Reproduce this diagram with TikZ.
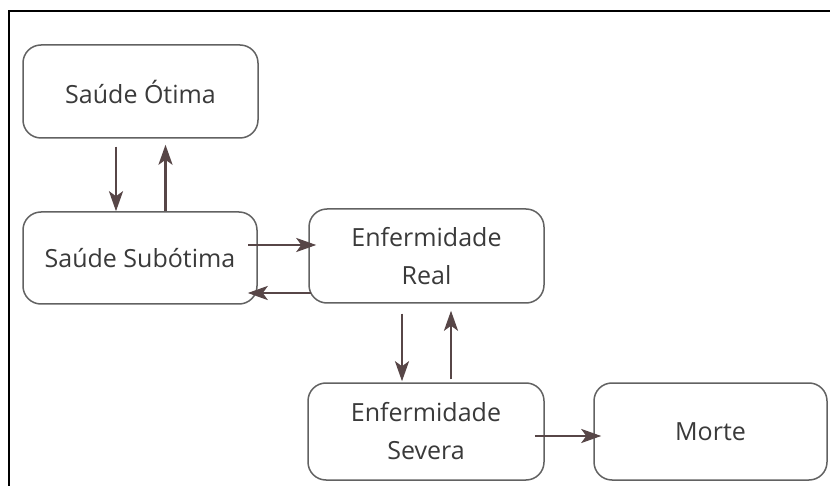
\documentclass[tikz,border=0pt]{standalone}
\usepackage{fontspec}
\setmainfont{Open Sans}
\usetikzlibrary{arrows.meta,calc}
\definecolor{boxline}{HTML}{626262}
\definecolor{arrowcol}{HTML}{574647}
\definecolor{txt}{HTML}{3A3A3A}
\tikzset{
  state/.style={draw=boxline, line width=1.5pt, rounded corners=18pt,
    minimum width=#1, text=txt, align=center, inner sep=0pt,
    font=\fontsize{25}{38}\selectfont},
  state/.default=235pt,
  arr/.style={draw=arrowcol, line width=2.6pt,
    -{Stealth[length=20pt,width=14pt,inset=5pt]}},
}
\begin{document}
\begin{tikzpicture}[x=1pt,y=-1pt]
  % page area and frame
  \useasboundingbox (0,0) rectangle (830,486);
  \fill[white] (0,0) rectangle (830,486);
  \draw[black, line width=2pt] (8.5,486) -- (8.5,11) -- (830,11);

  % states
  \node[state, minimum height=93pt] (otima)    at (140.5,91.5) {Saúde Ótima};
  \node[state=234pt, minimum height=92pt] (subotima) at (140,258) {Saúde Subótima};
  \node[state, minimum height=94pt] (real)     at (426.5,256) {Enfermidade\\Real};
  \node[state=236pt, minimum height=97pt] (severa)   at (426,431.5) {Enfermidade\\Severa};
  \node[state=233pt, minimum height=97pt] (morte)    at (710.5,431.5) {Morte};

  % transitions
  \draw[arr] ($(otima.south)+(-24.5,8)$) -- ($(subotima.north)+(-24,0)$);
  \draw[arr] ($(subotima.north)+(25.5,0)$) -- ($(otima.south)+(25,6)$);
  \draw[arr] ($(subotima.east)+(-9.5,-13)$) -- ($(real.west)+(8,-11)$);
  \draw[arr] ($(real.west)+(3,37)$) -- ($(subotima.east)+(-10,35)$);
  \draw[arr] ($(real.south)+(-24.5,10)$) -- ($(severa.north)+(-24,-1)$);
  \draw[arr] ($(severa.north)+(25,-3)$) -- ($(real.south)+(24.5,7)$);
  \draw[arr] ($(severa.east)+(-10,4.5)$) -- ($(morte.west)+(8,4.5)$);
\end{tikzpicture}
\end{document}
